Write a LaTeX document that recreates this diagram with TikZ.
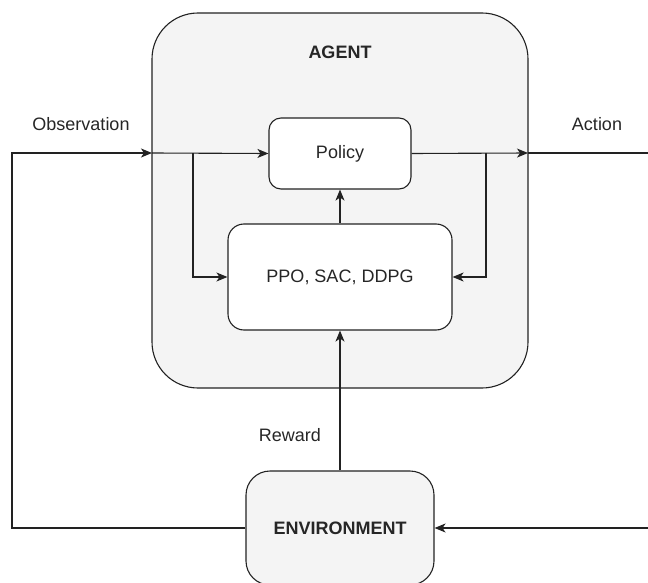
\documentclass[tikz,border=0pt]{standalone}
\usepackage{fontspec}
\setmainfont{Liberation Sans}
\usetikzlibrary{arrows.meta}
\definecolor{boxgray}{HTML}{F4F4F4}
\definecolor{linegray}{HTML}{222222}
\begin{document}
\begin{tikzpicture}[x=1pt, y=-1pt,
    every node/.style={font=\fontsize{18}{22}\selectfont, text=black!85},
    blk/.style={draw=linegray, line width=1.1pt, fill=white, rounded corners=12pt},
    arr/.style={draw=linegray, line width=1.1pt, -{Stealth[length=11pt, width=9pt, inset=3pt]}},
    ln/.style={draw=linegray, line width=1.1pt}]
        \useasboundingbox (0, 0) rectangle (648, 583);

        \node[blk, fill=boxgray, rounded corners=46pt, minimum width=376pt, minimum height=375pt] (agent) at (340, 200.5) {};
        \node[font=\fontsize{18}{22}\selectfont\bfseries] (agenttxt) at (340, 52) {AGENT};
        \node[blk, minimum width=142pt, minimum height=71pt] (policy) at (340, 153.5) {Policy};
        \node[blk, rounded corners=16pt, minimum width=224pt, minimum height=106pt] (ppo) at (340, 277) {PPO, SAC, DDPG};
        \node[blk, fill=boxgray, rounded corners=24pt, minimum width=188pt, minimum height=114pt, font=\fontsize{18}{22}\selectfont\bfseries] (env) at (340, 528) {ENVIRONMENT};

        \coordinate (obsin) at (152, 153);
        \coordinate (actout) at (528, 153);
        \coordinate (rightend) at (648, 153);
        \coordinate (rightin) at (648, 528);

        \node (obs) at (81, 124) {Observation};
        \node (act) at (597, 124) {Action};
        \node (rew) at (290, 435) {Reward};

        \draw[arr] (env.west) -| (12, 153) -- (obsin);
        \draw[arr] (obsin) -- (policy.west);
        \draw[arr] (193, 153) |- (ppo.west);
        \draw[arr] (policy.east) -- (actout);
        \draw[ln] (actout) -- (rightend);
        \draw[arr] (486, 153) |- (ppo.east);
        \draw[arr] (ppo.north) -- (policy.south);
        \draw[arr] (env.north) -- (ppo.south);
        \draw[arr] (rightin) -- (env.east);
    \end{tikzpicture}
\end{document}
